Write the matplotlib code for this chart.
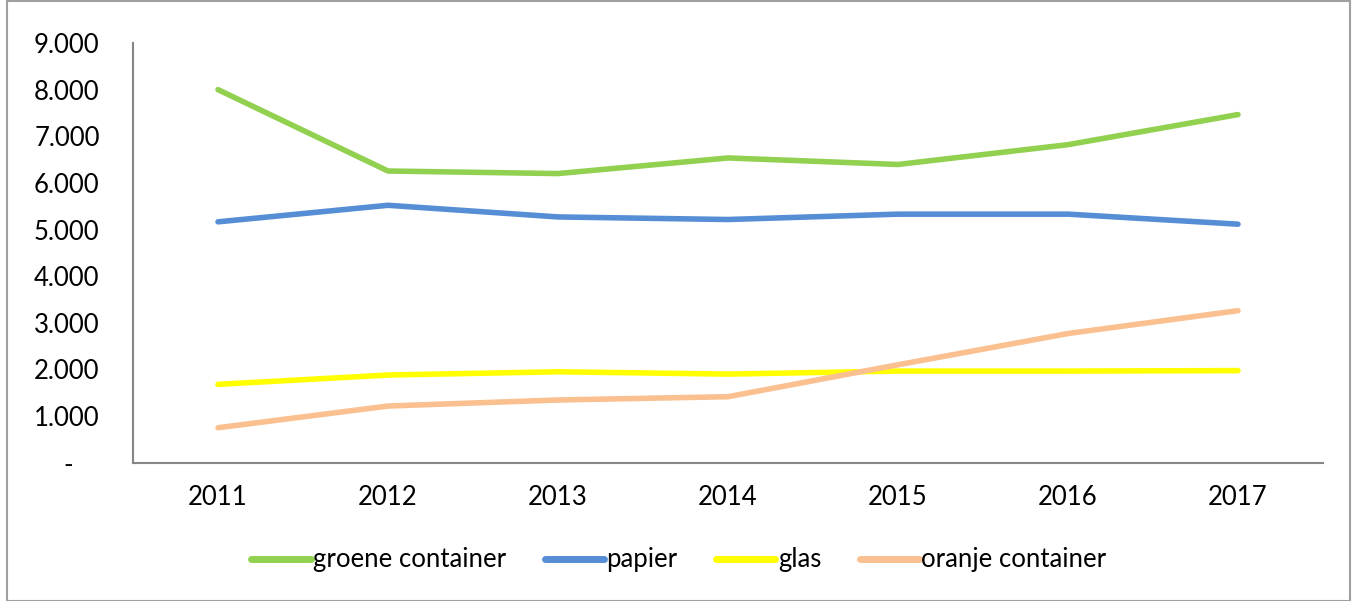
import matplotlib
matplotlib.use("Agg")
import matplotlib.pyplot as plt
from matplotlib.patches import Rectangle
from matplotlib.ticker import FuncFormatter

years = ["2011", "2012", "2013", "2014", "2015", "2016", "2017"]
groene_container = [8000, 6255, 6200, 6535, 6395, 6820, 7465]
papier = [5165, 5520, 5270, 5215, 5330, 5330, 5115]
glas = [1680, 1880, 1950, 1900, 1965, 1965, 1975]
oranje_container = [750, 1215, 1345, 1415, 2100, 2770, 3260]

series = [
    ("groene container", groene_container, "#92D050"),
    ("papier", papier, "#558ED5"),
    ("glas", glas, "#FFFF00"),
    ("oranje container", oranje_container, "#FAC090"),
]

plt.rcParams['font.family'] = ['Lato', 'DejaVu Sans']
fs = 18.5

fig = plt.figure(figsize=(13.58, 6.01), dpi=100)
ax = fig.add_axes([133/1358, 1 - 462.7/601, (1323-133)/1358, (462.7-43)/601])

x = range(len(years))
for name, vals, col in series:
    ax.plot(x, vals, color=col, linewidth=4, solid_capstyle='round',
            solid_joinstyle='round', label=name)

ax.set_xlim(-0.5, len(years) - 0.5)
ax.set_ylim(0, 9000)
ax.set_yticks(range(0, 9001, 1000))
ax.set_xticks(list(x))
ax.set_xticklabels(years)


def fmt(v, pos):
    if v == 0:
        return "-    "
    return "{:,.0f}".format(v).replace(",", ".")


ax.yaxis.set_major_formatter(FuncFormatter(fmt))
ax.tick_params(axis='both', length=0, labelsize=fs, colors='black')
ax.tick_params(axis='y', pad=24)
ax.tick_params(axis='x', pad=16)

for s in ['top', 'right']:
    ax.spines[s].set_visible(False)
for s in ['left', 'bottom']:
    ax.spines[s].set_color('#868686')
    ax.spines[s].set_linewidth(1.5)

leg = fig.legend(loc='center', bbox_to_anchor=(0.5, 1 - 560/601), ncol=4,
                 frameon=False, fontsize=fs, handlelength=2.3,
                 handletextpad=0.1, columnspacing=1.5)
for h in leg.get_lines():
    h.set_linewidth(5)

fig.patches.append(Rectangle((7/1358, 0), 1343/1358, 0.999, transform=fig.transFigure,
                             fill=False, edgecolor='#A0A0A0', linewidth=1.5))

fig.savefig("out.png", dpi=100)
